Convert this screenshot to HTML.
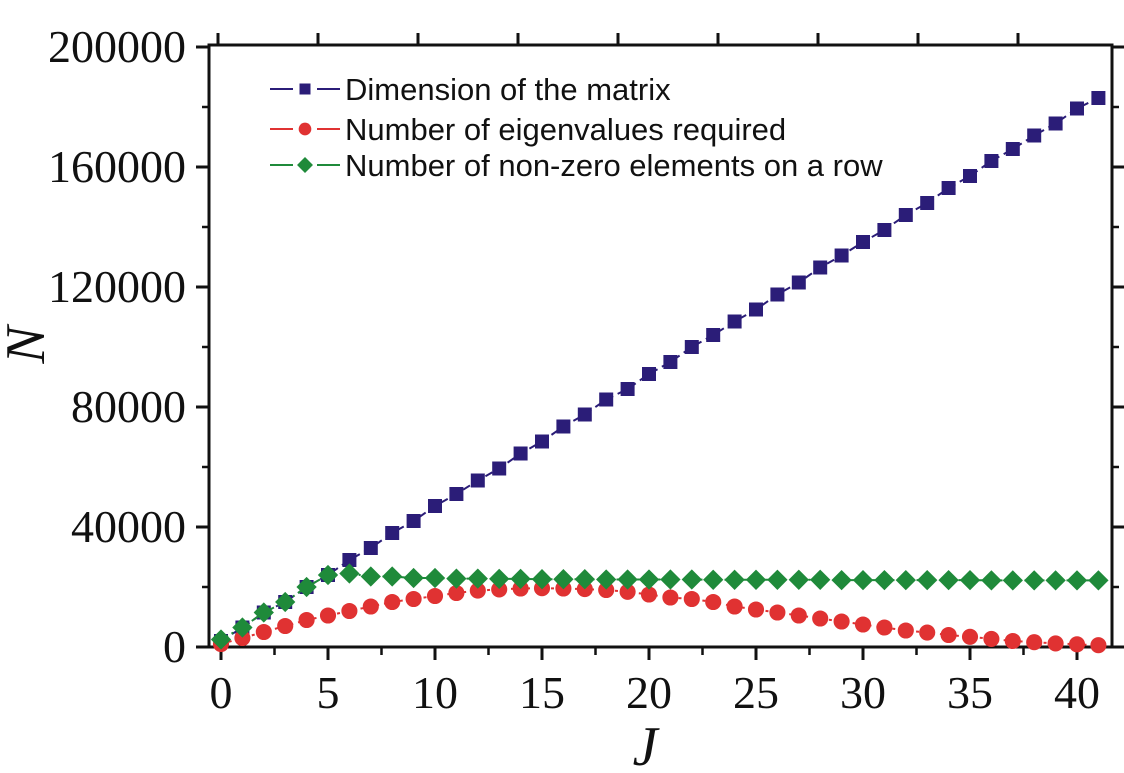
<!DOCTYPE html>
<html><head><meta charset="utf-8"><style>
html,body{margin:0;padding:0;background:#fff;}
svg{display:block;}
</style></head><body>
<svg id="chart" width="1124" height="773" viewBox="0 0 1124 773" xmlns="http://www.w3.org/2000/svg">
<g id="axes"></g>
<g id="series"></g>
<g id="legend"></g>
</svg>
<script>
const jValues = [0,1,2,3,4,5,6,7,8,9,10,11,12,13,14,15,16,17,18,19,20,21,22,23,24,25,26,27,28,29,30,31,32,33,34,35,36,37,38,39,40,41];
const dimension = [2000,6500,11500,15000,20000,24000,29000,33000,38000,42000,47000,51000,55500,59500,64500,68500,73500,77500,82500,86000,91000,95000,100000,104000,108500,112500,117500,121500,126500,130500,135000,139000,144000,148000,153000,157000,162000,166000,170500,174500,179500,183000];
const eigenvalues = [1000,3000,5000,7000,9000,10500,12000,13500,15000,16000,17000,18000,18800,19200,19500,19600,19500,19300,19000,18400,17500,16500,16000,15000,13500,12500,11500,10500,9500,8500,7500,6500,5500,4800,4000,3400,2700,2000,1600,1200,900,600];
const nonzero = [2500,6500,11500,15000,20000,24000,24500,23500,23500,23000,23000,22800,22800,22700,22700,22600,22600,22600,22500,22500,22500,22500,22500,22400,22400,22400,22400,22400,22400,22300,22300,22300,22300,22300,22300,22300,22200,22200,22200,22200,22200,22200];
const yTicks = [0,40000,80000,120000,160000,200000];
const xTicks = [0,5,10,15,20,25,30,35,40];

const NS='http://www.w3.org/2000/svg';
const X0=221, XS=21.4, Y0=647, YS=600/200000;
const xs=v=>X0+v*XS, ys=v=>Y0-v*YS;
function mk(tag,attrs,parent){const e=document.createElementNS(NS,tag);for(const k in attrs)e.setAttribute(k,attrs[k]);parent.appendChild(e);return e;}
const axes=document.getElementById('axes'), series=document.getElementById('series'), legend=document.getElementById('legend');
const L=209,R=1112,T=45,B=647;
let f=mk('rect',{x:L,y:T,width:R-L,height:B-T,fill:'none',stroke:'#111','stroke-width':3},axes);


mk('line',{x1:197,y1:B,x2:L,y2:B,stroke:'#111','stroke-width':3},axes);
yTicks.forEach(t=>{
  const y=ys(t);
  mk('line',{x1:196,y1:y,x2:L,y2:y,stroke:'#111','stroke-width':3},axes);
  mk('line',{x1:R,y1:y,x2:R+12,y2:y,stroke:'#111','stroke-width':3},axes);
  const tx=mk('text',{x:186,y:y+15,'text-anchor':'end','font-family':'Liberation Serif, serif','font-size':46,fill:'#111'},axes);
  tx.textContent=t;
  
  
});
for(let t=20000;t<200000;t+=40000){const y=ys(t);
  mk('line',{x1:202,y1:y,x2:L,y2:y,stroke:'#111','stroke-width':2.5},axes);
  mk('line',{x1:R,y1:y,x2:R+7,y2:y,stroke:'#111','stroke-width':2.5},axes);}
xTicks.forEach(t=>{
  const x=xs(t);
  mk('line',{x1:x,y1:B,x2:x,y2:B+13,stroke:'#111','stroke-width':3},axes);
  const tx=mk('text',{x:x,y:708,'text-anchor':'middle','font-family':'Liberation Serif, serif','font-size':46,fill:'#111'},axes);
  tx.textContent=t;
  
  
});
for(let t=2.5;t<41;t+=5){const x=xs(t);mk('line',{x1:x,y1:B,x2:x,y2:B+8,stroke:'#111','stroke-width':2.5},axes);}
for(let x=218;x<R;x+=100){mk('line',{x1:x,y1:T-12,x2:x,y2:T,stroke:'#111','stroke-width':3},axes);}
let yt=mk('text',{x:0,y:0,transform:'translate(44,345) rotate(-90)','text-anchor':'middle','font-family':'Liberation Serif, serif','font-style':'italic','font-size':56,fill:'#111'},axes);
yt.textContent='N';


let xt=mk('text',{x:645,y:765,'text-anchor':'middle','font-family':'Liberation Serif, serif','font-style':'italic','font-size':56,fill:'#111'},axes);
xt.textContent='J';



function marker(kind,x,y,color,parent,s){
  if(kind==='sq') return mk('rect',{x:x-s,y:y-s,width:2*s,height:2*s,fill:color},parent);
  if(kind==='ci') return mk('circle',{cx:x,cy:y,r:s*1.15,fill:color},parent);
  return mk('polygon',{points:`${x},${y-s*1.45} ${x+s*1.45},${y} ${x},${y+s*1.45} ${x-s*1.45},${y}`,fill:color},parent);
}
const defs=[
  {name:'dimension',vals:dimension,color:'#2b1d78',kind:'sq',dash:'8 5'},
  {name:'eigenvalues',vals:eigenvalues,color:'#e03232',kind:'ci',dash:'3 5'},
  {name:'nonzero',vals:nonzero,color:'#1f8a3a',kind:'di',dash:'8 4 2 4'}
];
defs.forEach(d=>{
  const g=mk('g',{},series);
  
  
  const pts=jValues.map((j,i)=>xs(j)+','+ys(d.vals[i])).join(' ');
  mk('polyline',{points:pts,fill:'none',stroke:d.color,'stroke-width':2,'stroke-dasharray':d.dash},g);
  jValues.forEach((j,i)=>{const m=marker(d.kind,xs(j),ys(d.vals[i]),d.color,g,7);
    
    });
});
const labels=['Dimension of the matrix','Number of eigenvalues required','Number of non-zero elements on a row'];
const ly=[89,129,165];
defs.forEach((d,i)=>{
  const g=mk('g',{},legend);
  
  
  mk('line',{x1:270,y1:ly[i],x2:340,y2:ly[i],stroke:d.color,'stroke-width':2},g);
  mk('rect',{x:293,y:ly[i]-4,width:24,height:8,fill:'#fff'},g);
  marker(d.kind,305,ly[i],d.color,g,5.5);
  const t=mk('text',{x:345,y:ly[i]+11,'font-family':'Liberation Sans, sans-serif','font-size':31,fill:'#111'},g);
  t.textContent=labels[i];
});
</script>
</body></html>
